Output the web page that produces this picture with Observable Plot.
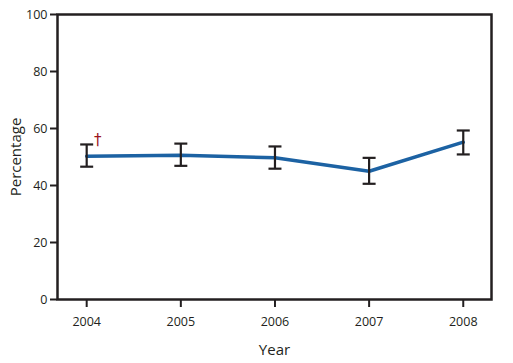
<!DOCTYPE html>
<html>
<head>
<meta charset="utf-8">
<script src="https://cdn.jsdelivr.net/npm/d3@7"></script>
<script src="https://cdn.jsdelivr.net/npm/@observablehq/plot@0.6"></script>
<style>
  body { margin: 0; background: #fff; }
  #chart svg { display: block; }
</style>
</head>
<body>
<div id="chart"></div>
<script>
const years = [2004, 2005, 2006, 2007, 2008];
const percentage = [50.3, 50.6, 49.7, 45.0, 55.2];
const lower = [46.6, 46.9, 45.9, 40.6, 50.9];
const upper = [54.4, 54.7, 53.7, 49.7, 59.3];
const yTicks = [0, 20, 40, 60, 80, 100];
const footnote = ["†", "", "", "", ""];

const data = years.map((year, i) => ({
  year, value: percentage[i], lo: lower[i], hi: upper[i], note: footnote[i]
}));
const capHalf = 0.069;
const ink = "#231f20";

const chart = Plot.plot({
  width: 513,
  height: 363,
  marginLeft: 57,
  marginRight: 22,
  marginTop: 14,
  marginBottom: 64,
  style: { fontFamily: "'Open Sans', sans-serif", fontSize: "12.5px", color: ink, background: "#fff" },
  x: { domain: [2003.69, 2008.3] },
  y: { domain: [0, 100] },
  marks: [
    Plot.axisY({ ticks: yTicks, tickSize: 7, tickPadding: 3, tickFormat: d => d, stroke: ink, strokeWidth: 2,
      fill: ink, fontSize: 12.5,
      label: "Percentage", labelAnchor: "center", labelArrow: "none", labelOffset: 47 }),
    Plot.axisX({ ticks: years, tickSize: 8, tickPadding: 10, tickFormat: d => String(d), stroke: ink, strokeWidth: 2,
      fill: ink, fontSize: 12.5,
      label: "Year", labelAnchor: "center", labelArrow: "none", labelOffset: 55 }),
    Plot.frame({ stroke: ink, strokeWidth: 2.5 }),
    Plot.line(data, { x: "year", y: "value", stroke: "#1c62a3", strokeWidth: 3.5 }),
    Plot.ruleX(data, { x: "year", y1: "lo", y2: "hi", stroke: ink, strokeWidth: 2.2 }),
    Plot.link(data, { x1: d => d.year - capHalf, x2: d => d.year + capHalf, y1: "lo", y2: "lo", stroke: ink, strokeWidth: 2.2 }),
    Plot.link(data, { x1: d => d.year - capHalf, x2: d => d.year + capHalf, y1: "hi", y2: "hi", stroke: ink, strokeWidth: 2.2 }),
    Plot.text(data.filter(d => d.note), { x: "year", y: "hi", text: "note", dx: 11, dy: -4, fill: "#9b1420", fontSize: 15, fontFamily: "'DejaVu Sans', sans-serif" })
  ]
});
// enlarge axis titles
chart.querySelectorAll("g[aria-label='y-axis label'] text, g[aria-label='x-axis label'] text").forEach(t => t.setAttribute("font-size", "15"));
document.getElementById("chart").appendChild(chart);
</script>
</body>
</html>
